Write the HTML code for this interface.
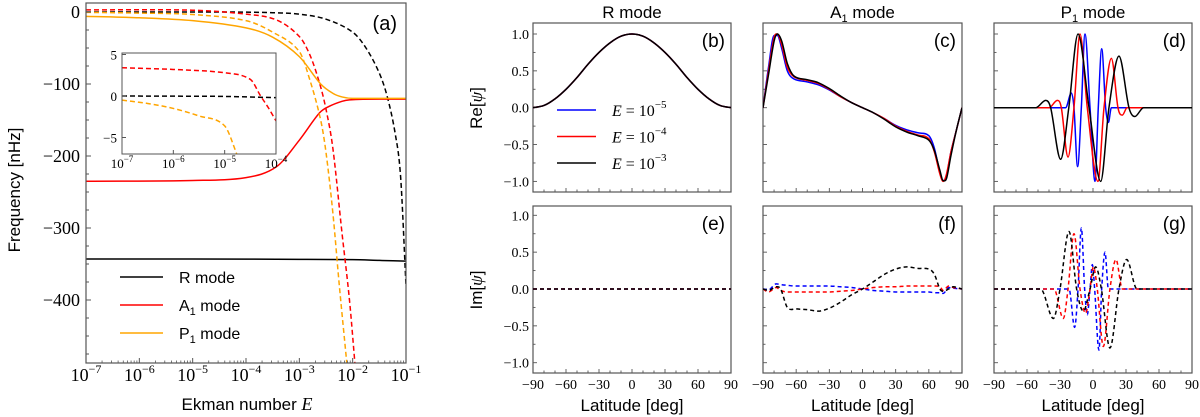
<!DOCTYPE html>
<html><head><meta charset="utf-8"><style>
html,body{margin:0;padding:0;background:#fff;}
svg{display:block;}
.sans{font-family:"Liberation Sans","DejaVu Sans",sans-serif;}
.serif{font-family:"Liberation Serif","DejaVu Serif",serif;}
</style></head><body>
<svg id="fig" width="1200" height="417" viewBox="0 0 1200 417" xmlns="http://www.w3.org/2000/svg"></svg>
<script>
// ---------- Panel (a) data (x = log10 E) ----------
const rSolidX = [-7,-5,-3,-2,-1.5,-1];
const rSolidY = [-343,-343,-343.5,-344,-345,-346];
const rDashX = [-7,-5,-4,-3.5,-3,-2.5,-2,-1.75,-1.5,-1.35,-1.2,-1.1,-1.0];
const rDashY = [0,0,-0.2,-1,-3,-10,-28,-50,-85,-118,-170,-230,-380];
const aSolidX = [-7,-5,-4,-3.43,-3,-2.62,-2.44,-2.2,-2.06,-1.5,-1];
const aSolidY = [-235,-234,-230,-215,-178,-140,-131,-124,-122,-121,-121];
const aDashX = [-7,-5,-4,-3.43,-3,-2.8,-2.62,-2.5,-2.37,-2.2,-2.06,-1.95];
const aDashY = [3,2.5,-3,-11,-34,-60,-99,-135,-190,-307,-400,-495];
const pSolidX = [-7,-6,-5,-4,-3.5,-3,-2.6,-2.37,-2.2,-2,-1];
const pSolidY = [-6,-8,-12,-22,-35,-62,-100,-113,-118,-120,-120];
const pDashX = [-7,-6,-5,-4,-3.5,-3,-2.8,-2.6,-2.5,-2.37,-2.25,-2.1];
const pDashY = [-0.5,-1.5,-3.5,-12,-28,-55,-95,-150,-195,-280,-380,-495];
// inset data
const inRX = [-7,-6,-5,-4];
const inRY = [0,-0.02,-0.05,-0.2];
const inAX = [-7,-6,-5,-4.5,-4.3,-4.15,-4];
const inAY = [3.4,3.2,2.8,2.0,0,-1.4,-3];
const inPX = [-7,-6.5,-6,-5.5,-5,-4.75];
const inPY = [-0.5,-0.9,-1.5,-2.4,-3.6,-7.2];
const aTicks = [-7,-6,-5,-4,-3,-2,-1];
const aYTicks = [0,-100,-200,-300,-400];

// ---------- Right panels data (latitude) ----------
const bLat = [-90,-80,-70,-60,-50,-40,-30,-20,-10,0,10,20,30,40,50,60,70,80,90];
const bVal = [0,0.03,0.12,0.25,0.41,0.59,0.75,0.88,0.97,1,0.97,0.88,0.75,0.59,0.41,0.25,0.12,0.03,0];
const cLat = [-90,-85,-80,-77,-73,-68,-62,-50,-40,-30,-20,-10,0,10,20,30,40,50,60,65,70,73,76,80,85,90];
const cBlue = [0,0.55,0.98,0.98,0.8,0.5,0.39,0.35,0.31,0.24,0.15,0.07,0,-0.07,-0.15,-0.24,-0.3,-0.34,-0.38,-0.55,-0.88,-0.99,-0.92,-0.6,-0.3,0];
const cRed = [0,0.5,0.95,1.0,0.85,0.55,0.42,0.37,0.33,0.25,0.15,0.07,0,-0.07,-0.15,-0.25,-0.32,-0.37,-0.42,-0.6,-0.9,-1.0,-0.9,-0.6,-0.3,0];
const cBlack = [0,0.45,0.9,1.0,0.9,0.6,0.43,0.38,0.34,0.26,0.16,0.07,0,-0.07,-0.16,-0.26,-0.33,-0.38,-0.44,-0.58,-0.85,-0.99,-0.96,-0.65,-0.3,0];
const dBlackLat = [-90,-52,-43,-38.5,-29.4,-22,-13.6,-3.6,7,14.5,23.6,32.7,38,46,90];
const dBlackVal = [0,0,0.1,0,-0.7,0,1.0,0,-1.0,0,0.7,0,-0.12,0,0];
const dRedLat = [-90,-40,-32.4,-28.8,-22.7,-17.3,-11.8,-5.2,4.5,10,16.7,22.7,26.7,31,90];
const dRedVal = [0,0,0.1,0,-0.67,0,1.0,0,-1.0,0,0.67,0,-0.1,0,0];
const dBlueLat = [-90,-24.9,-19.7,-17.3,-14,-10.6,-7.3,-2.7,1.8,4.8,7.9,11.5,14,16.7,90];
const dBlueVal = [0,0,0.2,0,-0.8,0,1.0,0,-1.0,0,0.8,0,-0.2,0,0];
const fLat = [-90,-85,-78,-74,-68,-60,-50,-40,-30,-20,-10,0,10,20,30,40,50,60,65,70,73,78,82,90];
const fBlack = [0,-0.02,0.03,0,-0.25,-0.27,-0.28,-0.3,-0.26,-0.18,-0.08,0,0.1,0.2,0.27,0.3,0.28,0.27,0.2,0,-0.03,0,0.03,0];
const fRed = [0,-0.04,0.02,-0.02,-0.04,-0.04,-0.04,-0.04,-0.04,-0.03,-0.02,0,0.02,0.03,0.03,0.04,0.04,0.04,0.04,0.03,-0.02,0.04,0.02,0];
const fBlue = [0,-0.01,0.07,0.06,0.05,0.04,0.04,0.04,0.04,0.03,0.02,0,-0.02,-0.03,-0.04,-0.04,-0.04,-0.04,-0.05,-0.05,-0.06,0.02,0.01,0];
const gBlackLat = [-90,-47.6,-36,-30,-21.8,-14.9,-8.8,-2.7,2.4,7.6,15.4,23.6,30.6,40,90];
const gBlackVal = [0,0,-0.4,0,0.78,0,-0.3,0,0.3,0,-0.8,0,0.4,0,0];
const gRedLat = [-90,-35.5,-27,-22.7,-17.3,-11.8,-6.7,-2.7,0.3,3.9,9.4,15.4,20.9,26.7,90];
const gRedVal = [0,0,-0.4,0,0.75,0,-0.33,0,0.3,0,-0.78,0,0.4,0,0];
const gBlueLat = [-90,-21.8,-16.7,-13.6,-10.6,-7.6,-5.2,-2.7,-0.6,1.5,5.4,7.9,10.9,14,90];
const gBlueVal = [0,0,-0.52,0,0.83,0,-0.35,0,0.33,0,-0.83,0,0.5,0,0];
const latTicks = [-90,-60,-30,0,30,60,90];
const psiTicks = [1.0,0.5,0.0,-0.5,-1.0];
const legendLabels = ['-5','-4','-3'];

const NS='http://www.w3.org/2000/svg';
const svg=document.getElementById('fig');
function mk(tag,attrs,parent){const e=document.createElementNS(NS,tag);for(const k in attrs)e.setAttribute(k,attrs[k]);(parent||svg).appendChild(e);return e;}
function smooth(pts){
  const n=pts.length;
  const sec=[];for(let i=0;i<n-1;i++){const dx=pts[i+1][0]-pts[i][0];sec.push(dx===0?0:(pts[i+1][1]-pts[i][1])/dx);}
  const m=[];
  for(let i=0;i<n;i++){
    if(i===0)m.push(sec[0]);else if(i===n-1)m.push(sec[n-2]);
    else{ if(sec[i-1]*sec[i]<=0)m.push(0);
      else{const dx=pts[i+1][0]-pts[i-1][0];m.push((pts[i+1][1]-pts[i-1][1])/dx);} }
  }
  let d='M'+pts[0][0].toFixed(2)+','+pts[0][1].toFixed(2);
  for(let i=0;i<n-1;i++){
    const p1=pts[i],p2=pts[i+1],h=(p2[0]-p1[0])/3;
    d+='C'+(p1[0]+h).toFixed(2)+','+(p1[1]+m[i]*h).toFixed(2)+' '+(p2[0]-h).toFixed(2)+','+(p2[1]-m[i+1]*h).toFixed(2)+' '+p2[0].toFixed(2)+','+p2[1].toFixed(2);
  }
  return d;
}
const defs=mk('defs',{});
let clipN=0;
function clip(x,y,w,h){const id='c'+(clipN++);const cp=mk('clipPath',{id:id},defs);mk('rect',{x:x,y:y,width:w,height:h},cp);return id;}
function series(xs,ys,sx,sy,color,dash,clipId,name,width){
  const pts=xs.map((v,i)=>[sx(v),sy(ys[i])]);
  const p=mk('path',{d:smooth(pts),fill:'none',stroke:color,'stroke-width':width||1.5,'clip-path':'url(#'+clipId+')'});
  if(dash)p.setAttribute('stroke-dasharray',dash);
  
  
  return p;
}
const AX='#555';
// ================= Panel (a) =================
const aL=86,aR=406,aT=3,aB=363;
const ax=v=>aL+(v+7)/6*(aR-aL);
const ay=v=>12-v*0.72;
const ca=clip(aL,aT,aR-aL,aB-aT);
series(rSolidX,rSolidY,ax,ay,'#000',null,ca,'r-mode-solid');
series(rDashX,rDashY,ax,ay,'#000','5,3',ca,'r-mode-dashed');
series(aSolidX,aSolidY,ax,ay,'#f00',null,ca,'a1-mode-solid');
series(aDashX,aDashY,ax,ay,'#f00','5,3',ca,'a1-mode-dashed');
series(pSolidX,pSolidY,ax,ay,'#ffa500',null,ca,'p1-mode-solid');
series(pDashX,pDashY,ax,ay,'#ffa500','5,3',ca,'p1-mode-dashed');
let fr=mk('rect',{x:aL,y:aT,width:aR-aL,height:aB-aT,fill:'none',stroke:AX,'stroke-width':1.2});

aTicks.forEach(t=>{
  const x=ax(t);
  mk('line',{x1:x,y1:aB,x2:x,y2:aB-5,stroke:AX,'stroke-width':1});
  for(let k=2;k<10&&t<-1;k++){const xm=ax(t+Math.log10(k));mk('line',{x1:xm,y1:aB,x2:xm,y2:aB-2.5,stroke:AX,'stroke-width':0.8});}
  const tx=mk('text',{x:x,y:381,'text-anchor':'middle','font-size':18,class:'serif'});
  tx.innerHTML='10<tspan dy="-8" font-size="12">−'+(-t)+'</tspan>';
  
});
for(let v=0;v>=-475;v-=25){const y=ay(v);mk('line',{x1:aL,y1:y,x2:aL+(v%100===0?5:3),y2:y,stroke:AX,'stroke-width':1});}
aYTicks.forEach(v=>{const t=mk('text',{x:aL-6,y:ay(v)+6,'text-anchor':'end','font-size':18,class:'serif'});t.textContent=v===0?'0':'−'+(-v);
  });
let t=mk('text',{x:247,y:410,'text-anchor':'middle','font-size':17,class:'sans'});
t.innerHTML='Ekman number <tspan class="serif" font-style="italic" font-size="18">E</tspan>';

t=mk('text',{x:0,y:0,'text-anchor':'middle','font-size':17,class:'sans',transform:'translate(20,190) rotate(-90)'});
t.textContent='Frequency [nHz]';

t=mk('text',{x:397,y:30,'text-anchor':'end','font-size':20,class:'sans'});t.textContent='(a)';

// legend (a)
const legNames=['R mode','A<tspan font-size="11" dy="4">1</tspan><tspan dy="-4"> mode</tspan>','P<tspan font-size="11" dy="4">1</tspan><tspan dy="-4"> mode</tspan>'];
const legCols=['#000','#f00','#ffa500'];
legNames.forEach((n,i)=>{
  const y=277+i*28;
  const g=mk('g',{});
  mk('line',{x1:120,y1:y,x2:163,y2:y,stroke:legCols[i],'stroke-width':1.5},g);
  const tt=mk('text',{x:179,y:y+6,'font-size':16,class:'sans'},g);tt.innerHTML=n;
});
// inset
const iL=122,iR=276,iT=53,iB=154;
const ix=v=>iL+(v+7)/3*(iR-iL);
const iy=v=>96-v*8.3;
let ir=mk('rect',{x:iL,y:iT,width:iR-iL,height:iB-iT,fill:'#fff',stroke:'none'});
const ci=clip(iL,iT,iR-iL,iB-iT);
series(inRX,inRY,ix,iy,'#000','5,3',ci,'inset-r-dashed');
series(inAX,inAY,ix,iy,'#f00','5,3',ci,'inset-a1-dashed');
series(inPX,inPY,ix,iy,'#ffa500','5,3',ci,'inset-p1-dashed');
fr=mk('rect',{x:iL,y:iT,width:iR-iL,height:iB-iT,fill:'none',stroke:AX,'stroke-width':1});

[-7,-6,-5,-4].forEach(v=>{const x=ix(v);mk('line',{x1:x,y1:iB,x2:x,y2:iB-4,stroke:AX});
  const tt=mk('text',{x:x,y:168,'text-anchor':'middle','font-size':13,class:'serif'});tt.innerHTML='10<tspan dy="-6" font-size="9">−'+(-v)+'</tspan>';
  });
[5,0,-5].forEach(v=>{const y=iy(v);mk('line',{x1:iL,y1:y,x2:iL+4,y2:y,stroke:AX});
  const tt=mk('text',{x:iL-5,y:y+5,'text-anchor':'end','font-size':13,class:'serif'});tt.textContent=v<0?'−5':String(v);
  });

// ================= Right panels =================
const cols=[[533,731],[763,962],[994,1192]];
const rows=[{t:23,b:192,z:107.7},{t:206,b:373,z:289}];
const sc=73.7;
const letters=[['(b)','(c)','(d)'],['(e)','(f)','(g)']];
const titles=['R mode','A<tspan font-size="11" dy="4">1</tspan><tspan dy="-4"> mode</tspan>','P<tspan font-size="11" dy="4">1</tspan><tspan dy="-4"> mode</tspan>'];
const panels={};
rows.forEach((r,ri)=>cols.forEach((c,ci)=>{
  const sx=v=>c[0]+(v+90)/180*(c[1]-c[0]);
  const sy=v=>r.z-v*sc;
  const id=clip(c[0],r.t,c[1]-c[0],r.b-r.t);
  panels[ri+''+ci]={sx,sy,id};
  const f=mk('rect',{x:c[0],y:r.t,width:c[1]-c[0],height:r.b-r.t,fill:'none',stroke:AX,'stroke-width':1.2});
  
  for(let l=-90;l<=90;l+=10){const x=sx(l);mk('line',{x1:x,y1:r.b,x2:x,y2:r.b-(l%30===0?4:2.5),stroke:AX,'stroke-width':0.9});}
  for(let v=-1;v<=1.01;v+=0.25){const y=sy(v);mk('line',{x1:c[0],y1:y,x2:c[0]+(Math.abs(v*2-Math.round(v*2))<0.01?4:2.5),y2:y,stroke:AX,'stroke-width':0.9});}
  const lt=mk('text',{x:c[1]-6,y:r.t+24,'text-anchor':'end','font-size':19,class:'sans'});lt.textContent=letters[ri][ci];
  
  if(ci===0){psiTicks.forEach(v=>{const tt=mk('text',{x:c[0]-4,y:sy(v)+5,'text-anchor':'end','font-size':14,class:'serif'});tt.textContent=(v<0?'−':'')+Math.abs(v).toFixed(1);
    });}
  if(ri===1){latTicks.forEach(v=>{const tt=mk('text',{x:sx(v),y:389,'text-anchor':'middle','font-size':14,class:'serif'});tt.textContent=(v<0?'−':'')+Math.abs(v);
    });
    const xl=mk('text',{x:(c[0]+c[1])/2,y:411,'text-anchor':'middle','font-size':17,class:'sans'});xl.textContent='Latitude [deg]';
    }
  if(ri===0){const tl=mk('text',{x:(c[0]+c[1])/2,y:18,'text-anchor':'middle','font-size':17,class:'sans'});tl.innerHTML=titles[ci];
    }
}));
t=mk('text',{x:0,y:0,'text-anchor':'middle','font-size':17,class:'sans',transform:'translate(482,108) rotate(-90)'});
t.innerHTML='Re[<tspan class="serif" font-style="italic">ψ</tspan>]';
t=mk('text',{x:0,y:0,'text-anchor':'middle','font-size':17,class:'sans',transform:'translate(482,290) rotate(-90)'});
t.innerHTML='Im[<tspan class="serif" font-style="italic">ψ</tspan>]';

let P=panels['00'];
series(bLat,bVal,P.sx,P.sy,'#00f',null,P.id,'b-blue');
series(bLat,bVal,P.sx,P.sy,'#f00',null,P.id,'b-red');
series(bLat,bVal,P.sx,P.sy,'#000',null,P.id,'b-black');
P=panels['01'];
series(cLat,cBlue,P.sx,P.sy,'#00f',null,P.id,'c-blue');
series(cLat,cRed,P.sx,P.sy,'#f00',null,P.id,'c-red');
series(cLat,cBlack,P.sx,P.sy,'#000',null,P.id,'c-black');
P=panels['02'];
series(dBlueLat,dBlueVal,P.sx,P.sy,'#00f',null,P.id,'d-blue');
series(dRedLat,dRedVal,P.sx,P.sy,'#f00',null,P.id,'d-red');
series(dBlackLat,dBlackVal,P.sx,P.sy,'#000',null,P.id,'d-black');
P=panels['10'];
const eLat=[-90,90],eVal=[0,0];
series(eLat,eVal,P.sx,P.sy,'#00f','4,3',P.id,'e-blue');
series(eLat,eVal,P.sx,P.sy,'#f00','4,3',P.id,'e-red');
series(eLat,eVal,P.sx,P.sy,'#000','4,3',P.id,'e-black');
P=panels['11'];
series(fLat,fBlue,P.sx,P.sy,'#00f','4,3',P.id,'f-blue');
series(fLat,fRed,P.sx,P.sy,'#f00','4,3',P.id,'f-red');
series(fLat,fBlack,P.sx,P.sy,'#000','4,3',P.id,'f-black');
P=panels['12'];
series(gBlueLat,gBlueVal,P.sx,P.sy,'#00f','4,3',P.id,'g-blue');
series(gRedLat,gRedVal,P.sx,P.sy,'#f00','4,3',P.id,'g-red');
series(gBlackLat,gBlackVal,P.sx,P.sy,'#000','4,3',P.id,'g-black');
// legend in (b)
const lc=['#00f','#f00','#000'];
legendLabels.forEach((l,i)=>{
  const y=110+i*26.5;
  const g=mk('g',{});
  mk('line',{x1:557,y1:y,x2:596,y2:y,stroke:lc[i],'stroke-width':1.5},g);
  const tt=mk('text',{x:612,y:y+6,'font-size':16,class:'serif'},g);
  tt.innerHTML='<tspan font-style="italic">E</tspan> = 10<tspan dy="-8" font-size="11">−'+l.slice(1)+'</tspan>';
});
</script>
</body></html>
